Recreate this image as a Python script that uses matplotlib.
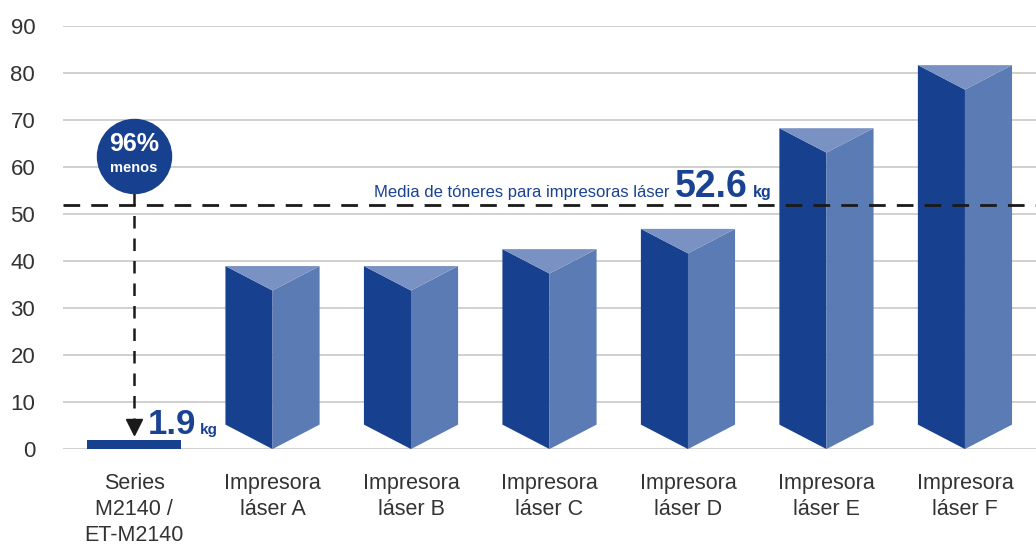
import numpy as np
import matplotlib
matplotlib.use('Agg')
from matplotlib import pyplot as plt
from matplotlib.patches import Polygon

plt.rcParams['font.family'] = ['Liberation Sans', 'DejaVu Sans']

# data
categories = ['Series\nM2140 /\nET-M2140', 'Impresora\nláser A', 'Impresora\nláser B',
              'Impresora\nláser C', 'Impresora\nláser D', 'Impresora\nláser E',
              'Impresora\nláser F']
epson_value = 1.9
laser_values = [38.9, 38.9, 42.5, 46.8, 68.2, 81.6]
avg_line = 51.8
avg_label = '52.6'
yticks = [0, 10, 20, 30, 40, 50, 60, 70, 80, 90]

dark = '#17408f'
mid = '#5b7bb4'
light = '#7a92c3'
txt_blue = '#1a4292'

fig = plt.figure(figsize=(10.36, 5.45), dpi=100)
ax = fig.add_axes([0.0608, 0.176, 0.9392, 0.777])
ax.set_xlim(-0.513, 6.513)
ax.set_ylim(0, 90)

for y in yticks:
    ax.axhline(y, color='#c8c8c8', lw=1.2, zorder=0)

w = 0.34
dip = 5.2
# flat bar for the Epson model
ax.bar(0, epson_value, width=2 * w, color=dark, zorder=2)

# prism bars
for i, v in enumerate(laser_values):
    xc = i + 1
    xl, xr = xc - w, xc + w
    ax.add_patch(Polygon([(xl, dip), (xc, 0), (xc, v - dip), (xl, v)],
                         closed=True, fc=dark, ec='none', zorder=2))
    ax.add_patch(Polygon([(xc, 0), (xr, dip), (xr, v), (xc, v - dip)],
                         closed=True, fc=mid, ec='none', zorder=2))
    ax.add_patch(Polygon([(xl, v), (xr, v), (xc, v - dip)],
                         closed=True, fc=light, ec='none', zorder=2))

# average line
ax.plot([-0.513, 6.513], [avg_line, avg_line], color='#1a1a1a', lw=2,
        ls=(0, (6, 4)), zorder=3, clip_on=False)
ax.text(3.87, 53.6, 'Media de tóneres para impresoras láser', color=txt_blue,
        fontsize=12, ha='right', va='baseline', zorder=4)
ax.text(3.905, 53.6, avg_label, color=txt_blue, fontsize=27, fontweight='bold',
        ha='left', va='baseline', zorder=4)
ax.text(4.47, 53.6, 'kg', color=txt_blue, fontsize=11.5, fontweight='bold',
        ha='left', va='baseline', zorder=4)

# 96% circle with dashed arrow
ax.scatter([0], [62.3], s=2950, color=dark, zorder=4, linewidths=0)
ax.text(0, 63.4, '96%', color='white', fontsize=18, fontweight='bold',
        ha='center', va='baseline', zorder=5)
ax.text(0, 58.9, 'menos', color='white', fontsize=10.5, fontweight='bold',
        ha='center', va='baseline', zorder=5)
ax.plot([0, 0], [54.4, 6.0], color='#1a1a1a', lw=1.8, ls=(0, (5, 4)), zorder=3)
ax.plot([0], [4.6], marker='v', ms=12, color='#1a1a1a', zorder=3, lw=0)

ax.text(0.10, 3.2, '1.9', color=txt_blue, fontsize=25, fontweight='bold',
        ha='left', va='baseline', zorder=4)
ax.text(0.475, 3.2, 'kg', color=txt_blue, fontsize=11, fontweight='bold',
        ha='left', va='baseline', zorder=4)

ax.set_xticks(range(len(categories)))
ax.set_xticklabels(categories, fontsize=15.5, color='#333333', linespacing=1.32)
ax.set_yticks(yticks)
ax.set_yticklabels([str(t) for t in yticks], fontsize=16, color='#333333')
ax.tick_params(length=0)
ax.tick_params(axis='y', pad=20)
ax.tick_params(axis='x', pad=17)
for s in ax.spines.values():
    s.set_visible(False)

fig.savefig('out.png', dpi=100)
